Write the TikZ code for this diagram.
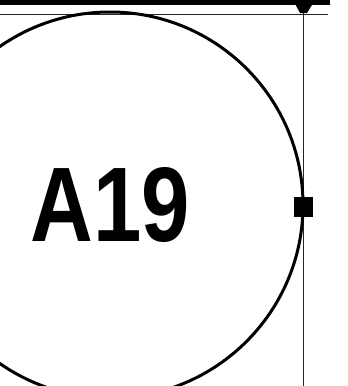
\documentclass[tikz,border=0pt]{standalone}
\usepackage{fontspec}
\setmainfont{Liberation Sans}
\usetikzlibrary{positioning}
\tikzset{
    ring/.style={circle, draw=black, line width=3pt, minimum size=386pt, inner sep=0pt},
    pin/.style={rectangle, fill=black, minimum width=19pt, minimum height=20pt, inner sep=0pt},
    guide/.style={draw=black!85, line width=0.8pt},
    rail/.style={draw=black, line width=5pt}
}

\begin{document}
\begin{tikzpicture}[x=1pt, y=-1pt]
    \useasboundingbox (0,0) rectangle (348,386);
    \clip (0,0) rectangle (348,386);

    % Guide lines
    \coordinate (railL) at (0,2);
    \coordinate (railR) at (330,2);
    \coordinate (guideL) at (0,14);
    \coordinate (guideR) at (328,14);
    \coordinate (pintop) at (303.5,5);
    \coordinate (guideB) at (303.5,386);
    \draw [rail] (railL) -- (railR);
    \draw [guide] (guideL) -- (guideR);
    \draw [guide] (pintop) -- (guideB);

    % Circle and label
    \node (ring) [ring] at (110,205) {};
    \node (label) at (ring.center) {\fontsize{106}{106}\selectfont\bfseries\scalebox{0.82}[1]{A19}};

    % Pins
    \fill (293,0) -- (315,0) -- (307,13) -- (300,13) -- cycle;
    \node (pinmid) [pin] at (303,207) {};
\end{tikzpicture}
\end{document}
